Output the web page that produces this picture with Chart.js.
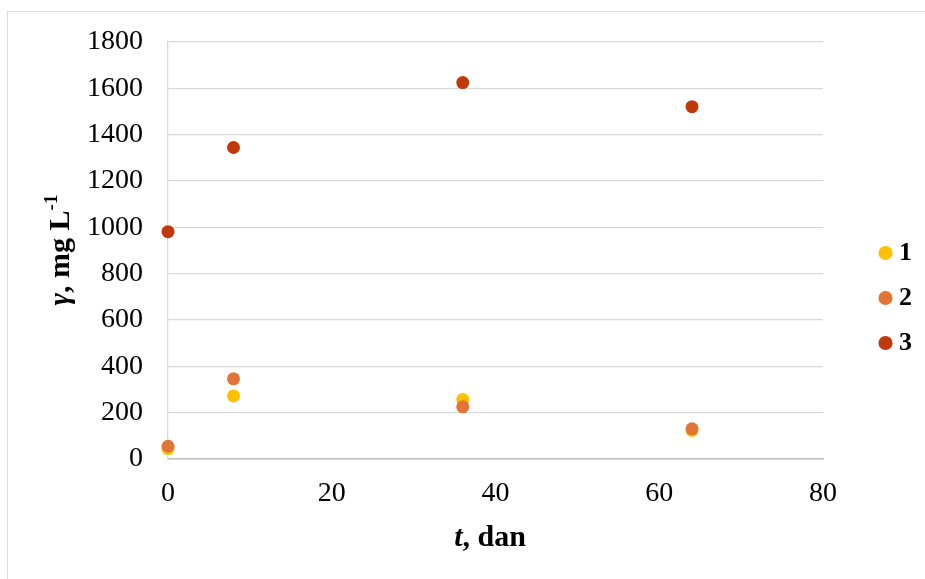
<!DOCTYPE html>
<html>
<head>
<meta charset="utf-8">
<title>γ vs t</title>
<script src="https://cdn.jsdelivr.net/npm/chart.js@4.4.1/dist/chart.umd.min.js"></script>
<style>
    body { margin: 0; background: #fff; }
    #wrap { position: relative; width: 925px; height: 579px; overflow: hidden; }
    #frame { position: absolute; left: 7px; top: 11px; width: 960px; height: 620px;
             border-left: 1px solid #d9d9d9; border-top: 1px solid #d9d9d9; }
    #gammaChart { position: absolute; left: 0; top: 0; }
</style>
</head>
<body>
<div id="wrap">
    <div id="frame"></div>
    <canvas id="gammaChart" width="922" height="579"></canvas>
</div>
<script>
// ─── DATA ───
const seriesNames = ['1', '2', '3'];
const days = [0, 8, 36, 64];
const series1 = [45, 272, 257, 123];
const series2 = [55, 346, 225, 130];
const series3 = [981, 1344, 1624, 1520];
const seriesColors = ['#FFC000', '#E17536', '#C0390B'];

const xMin = 0, xMax = 80, xStep = 20;
const yMin = 0, yMax = 1800, yStep = 200;

const SERIF = '"Liberation Serif", "Times New Roman", serif';

function toPoints(values) {
    return days.map((d, i) => ({ x: d, y: values[i] }));
}

// ─── AXIS TITLES (mixed italic / bold / superscript) ───
function drawRun(ctx, parts, x, y) {
    let total = 0;
    parts.forEach(p => { ctx.font = p.font; total += ctx.measureText(p.text).width; });
    let cx = x - total / 2;
    parts.forEach(p => {
        ctx.font = p.font;
        ctx.fillText(p.text, cx, y - (p.rise || 0));
        cx += ctx.measureText(p.text).width;
    });
}

const axisTitles = {
    id: 'axisTitles',
    afterDraw(chart) {
        const { ctx } = chart;
        ctx.save();
        ctx.fillStyle = '#000';
        ctx.textBaseline = 'alphabetic';

        drawRun(ctx, [
            { font: 'italic bold 30px ' + SERIF, text: 't' },
            { font: 'bold 30px ' + SERIF, text: ', dan' }
        ], 490, 546);

        ctx.translate(69, 250);
        ctx.rotate(-Math.PI / 2);
        drawRun(ctx, [
            { font: 'italic bold 30px ' + SERIF, text: 'γ' },
            { font: 'bold 30px ' + SERIF, text: ', mg L' },
            { font: 'bold 19px ' + SERIF, text: '-1', rise: 12 }
        ], 0, 0);
        ctx.restore();
    }
};

// ─── CREATE THE CHART ───
const ctx = document.getElementById('gammaChart').getContext('2d');
const gammaChart = new Chart(ctx, {
    type: 'scatter',
    data: {
        datasets: [series1, series2, series3].map((vals, i) => ({
            label: seriesNames[i],
            data: toPoints(vals),
            backgroundColor: seriesColors[i],
            borderColor: seriesColors[i],
            pointRadius: 6.5,
            pointHoverRadius: 6.5,
            pointBorderWidth: 0,
            pointStyle: 'circle',
            clip: false,
            order: 3 - i
        }))
    },
    options: {
        responsive: false,
        animation: false,
        layout: { padding: { top: 41, left: 0, right: 0, bottom: 24 } },
        scales: {
            x: {
                type: 'linear',
                min: xMin,
                max: xMax,
                afterFit: s => { s.height = 96; },
                ticks: {
                    stepSize: xStep,
                    padding: 18,
                    color: '#000',
                    font: { family: SERIF, size: 28 },
                    callback: v => String(v)
                },
                grid: { color: 'rgba(0,0,0,0)', drawTicks: false },
                border: { color: '#BFBFBF', width: 1.5 }
            },
            y: {
                type: 'linear',
                min: yMin,
                max: yMax,
                afterFit: s => { s.width = 168; },
                ticks: {
                    stepSize: yStep,
                    padding: 25,
                    color: '#000',
                    font: { family: SERIF, size: 28 },
                    callback: v => String(v)
                },
                grid: { color: '#D9D9D9', lineWidth: 1.3, drawTicks: false },
                border: { color: '#D9D9D9', width: 1.3 }
            },
            // empty spacer between plot and legend
            gap: {
                type: 'linear',
                position: 'right',
                display: true,
                afterFit: s => { s.width = 43; },
                ticks: { display: false },
                grid: { display: false },
                border: { display: false }
            }
        },
        plugins: {
            legend: {
                position: 'right',
                labels: {
                    usePointStyle: true,
                    pointStyle: 'circle',
                    boxWidth: 1,
                    boxHeight: 10,
                    padding: 19,
                    color: '#000',
                    font: { family: SERIF, size: 26, weight: 'bold' },
                    sort: (a, b) => a.datasetIndex - b.datasetIndex
                }
            },
            tooltip: { enabled: false }
        }
    },
    plugins: [axisTitles]
});
</script>
</body>
</html>
